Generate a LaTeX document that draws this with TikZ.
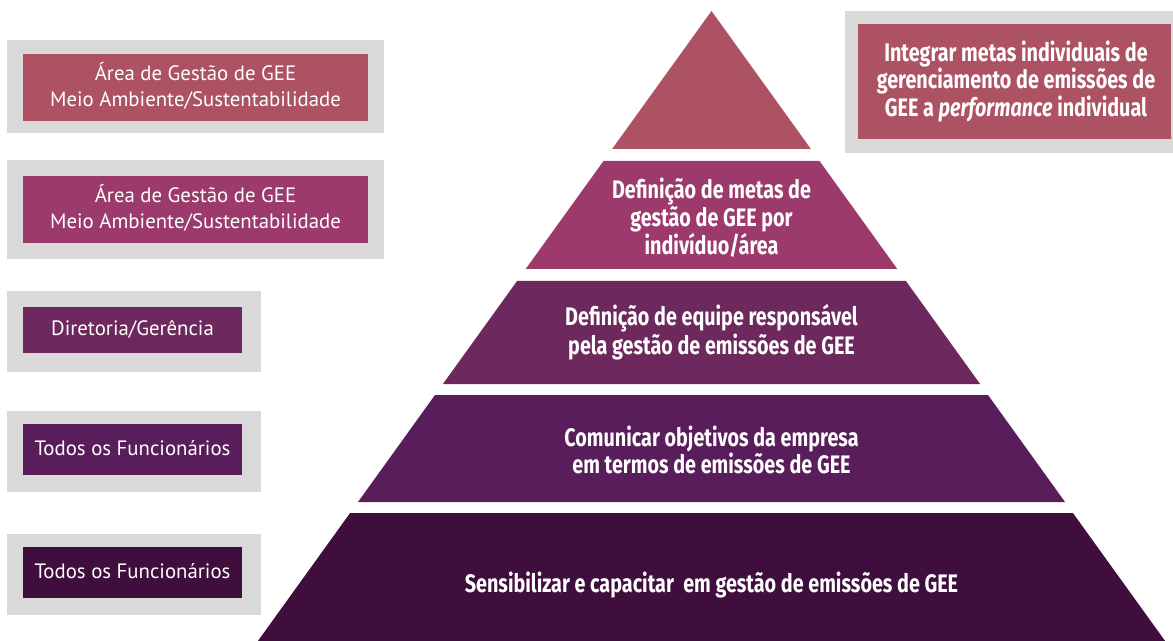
\documentclass[tikz,border=0pt]{standalone}
\usepackage{fontspec}
\setmainfont{PT Sans}
\newfontfamily\condfont[FakeStretch=0.78]{Fira Sans}
\definecolor{GEERose}{HTML}{AD5263}
\definecolor{GEEMagenta}{HTML}{9C3B6B}
\definecolor{GEEPlum}{HTML}{6D285D}
\definecolor{GEEPurple}{HTML}{5A1D5B}
\definecolor{GEEAubergine}{HTML}{3F0E3C}
\definecolor{GEEGray}{HTML}{D9D9D9}
\tikzset{
  roletext/.style={text=white,align=center,inner sep=0pt,font=\fontsize{15.6}{19.5}\selectfont},
  tiertext/.style={text=white,align=center,inner sep=0pt,font=\condfont\bfseries\fontsize{19}{19.5}\selectfont}
}

\begin{document}
\begin{tikzpicture}[x=0.75pt,y=-0.75pt]
  \useasboundingbox (0,0) rectangle (1173,641);
  \fill[GEERose] (711.5,11) -- (612.1,149) -- (810.9,149) -- cycle;
  \fill[GEEMagenta] (603.5,161) -- (819.5,161) -- (897.3,269) -- (525.7,269) -- cycle;
  \fill[GEEPlum] (517.1,281) -- (905.9,281) -- (980.1,384) -- (442.9,384) -- cycle;
  \fill[GEEPurple] (435,395) -- (988,395) -- (1065,502) -- (358,502) -- cycle;
  \fill[GEEAubergine] (350.1,513) -- (1072.9,513) -- (1165.1,641) -- (257.9,641) -- cycle;
  \node[tiertext] (tierB) at (711.5,218) {Definição de metas de\\gestão de GEE por\\indivíduo/área};
  \node[tiertext] (tierC) at (711.5,332) {Definição de equipe responsável\\pela gestão de emissões de GEE};
  \node[tiertext] (tierD) at (711.5,450) {Comunicar objetivos da empresa\\em termos de emissões de GEE};
  \node[tiertext] (tierE) at (711.5,585) {Sensibilizar e capacitar~ em gestão de emissões de GEE};

  \fill[GEEGray] (845,11) rectangle (1173,153);
  \fill[GEERose] (858,24) rectangle (1171,139);
  \node[tiertext] (goalA) at (1016,81.5) {Integrar metas individuais de\\gerenciamento de emissões de\\GEE a \textit{performance} individual};

  \fill[GEEGray] (7,40) rectangle (384,133);
  \fill[GEERose] (23,54) rectangle (368,121);
  \node[roletext] (roleA) at (195.5,85.5) {Área de Gestão de GEE\\Meio Ambiente/Sustentabilidade};
  \fill[GEEGray] (7,160) rectangle (384,259);
  \fill[GEEMagenta] (23,176) rectangle (368,243);
  \node[roletext] (roleB) at (195.5,207.5) {Área de Gestão de GEE\\Meio Ambiente/Sustentabilidade};
  \fill[GEEGray] (7,291) rectangle (261,372);
  \fill[GEEPlum] (23,307) rectangle (242,353);
  \node[roletext] (roleC) at (132.5,329) {Diretoria/Gerência};
  \fill[GEEGray] (7,411) rectangle (261,492);
  \fill[GEEPurple] (23,424) rectangle (242,475);
  \node[roletext] (roleD) at (132.5,448.5) {Todos os Funcionários};
  \fill[GEEGray] (7,534) rectangle (261,615);
  \fill[GEEAubergine] (23,547) rectangle (242,598);
  \node[roletext] (roleE) at (132.5,571.5) {Todos os Funcionários};
\end{tikzpicture}
\end{document}
